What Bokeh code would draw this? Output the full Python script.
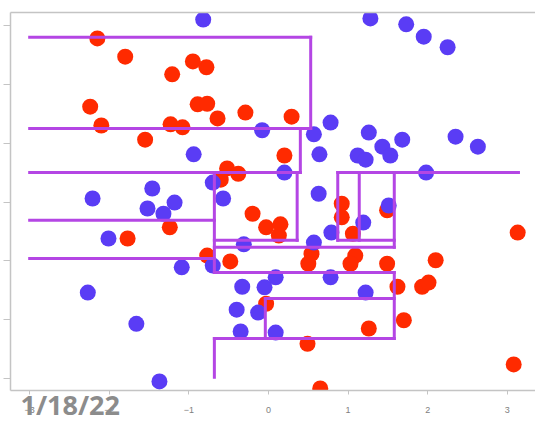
from bokeh.plotting import figure
from bokeh.models import LinearAxis, FixedTicker, Title, Range1d
from bokeh.embed import file_html
from bokeh.resources import INLINE

# class "red" points
red_x = [-2.15, -1.80, -1.21, -0.95, -0.78, -2.24, -2.10, -1.55, -1.23, -1.08,
         -0.89, -0.77, -0.64, -0.29, 0.29, 0.20, -0.52, -0.38, -0.60, -1.24,
         -1.77, -0.77, -0.48, -0.20, -0.03, 0.15, 0.13, -0.03, 0.92, 0.92,
         1.06, 1.49, 0.54, 0.50, 1.09, 1.03, 1.49, 2.10, 1.62, 1.93,
         2.01, 3.13, 1.70, 1.26, 0.49, 3.08, 0.65]
red_y = [2.78, 2.47, 2.17, 2.39, 2.29, 1.62, 1.30, 1.06, 1.32, 1.27,
         1.66, 1.67, 1.42, 1.52, 1.45, 0.79, 0.57, 0.48, 0.38, -0.43,
         -0.62, -0.91, -1.01, -0.20, -0.43, -0.38, -0.57, -1.73, -0.03, -0.26,
         -0.54, -0.14, -0.88, -1.05, -0.91, -1.05, -1.05, -0.99, -1.44, -1.44,
         -1.37, -0.52, -2.01, -2.15, -2.41, -2.76, -3.17]

# class "blue" points
blue_x = [-0.82, 1.28, 1.73, 1.95, 2.25, -0.08, 0.78, 0.57, 0.64, 1.26,
          1.12, 1.22, 1.43, 1.53, 1.68, 2.35, 2.63, 1.98, 0.20, 0.63,
          -0.94, -0.70, -1.46, -2.21, -1.18, -1.52, -1.32, -0.57, -2.01, -1.09,
          -0.70, -0.31, -2.27, -1.66, -1.37, -0.33, -0.05, 0.09, -0.40, -0.13,
          -0.35, 0.09, 1.51, 1.19, 0.79, 0.57, 0.78, 1.22]
blue_y = [3.10, 3.12, 3.02, 2.81, 2.63, 1.22, 1.35, 1.15, 0.81, 1.18,
          0.79, 0.72, 0.94, 0.79, 1.06, 1.11, 0.94, 0.50, 0.50, 0.14,
          0.81, 0.33, 0.23, 0.06, -0.01, -0.11, -0.20, 0.06, -0.62, -1.11,
          -1.08, -0.72, -1.54, -2.07, -3.05, -1.44, -1.45, -1.28, -1.83, -1.88,
          -2.20, -2.22, -0.06, -0.35, -0.52, -0.69, -1.28, -1.54]

# decision-tree boundary segments
seg_x0 = [-3.0, 0.53, -3.0, 0.40, -3.0, 0.36, -0.68, -0.68, -3.0, -3.0, -0.68,
          0.87, 0.87, 1.14, 1.58, 0.87, -0.68, 1.58, -0.04, -0.04, -0.68, -0.68]
seg_y0 = [2.80, 2.80, 1.25, 1.25, 0.50, 0.50, -0.65, 0.50, -0.31, -0.96, -0.77,
          0.50, 0.50, 0.50, 0.50, -0.65, -1.20, -1.20, -1.64, -1.64, -2.32, -2.32]
seg_x1 = [0.53, 0.53, 0.53, 0.40, 0.40, 0.36, 0.36, -0.68, -0.68, -0.68, 1.58,
          3.14, 0.87, 1.14, 1.58, 1.58, 1.58, 1.58, 1.58, -0.04, 1.58, -0.68]
seg_y1 = [2.80, 1.25, 1.25, 0.50, 0.50, -0.65, -0.65, -1.20, -0.31, -0.96, -0.77,
          0.50, -0.65, -0.65, -0.77, -0.65, -1.20, -2.32, -1.64, -2.32, -2.32, -2.98]

x_ticks = [-3, -2, -1, 0, 1, 2, 3]
y_ticks = [-3, -2, -1, 0, 1, 2, 3]
date_text = "1/18/22"

p = figure(width=535, height=421, output_backend="svg", toolbar_location=None,
           x_range=Range1d(-3.241, 3.354), y_range=Range1d(-3.204, 3.221),
           min_border_left=10, min_border_right=0, min_border_top=12, min_border_bottom=31,
           x_axis_location="below", y_axis_location="left")
p.outline_line_color = None
p.grid.visible = False
p.background_fill_color = "white"
p.border_fill_color = "white"

axis_grey = "#c4c4c4"
xa = p.xaxis[0]
xa.ticker = FixedTicker(ticks=x_ticks)
xa.axis_line_color = axis_grey
xa.axis_line_width = 1.5
xa.major_tick_line_color = axis_grey
xa.major_tick_in = 0
xa.major_tick_out = 4
xa.minor_tick_line_color = None
xa.major_label_standoff = 12
xa.major_label_text_font_size = "9px"
xa.major_label_text_color = "#808080"
xa.major_label_text_font = "Liberation Sans"

ya = p.yaxis[0]
ya.ticker = FixedTicker(ticks=y_ticks)
ya.axis_line_color = axis_grey
ya.axis_line_width = 1.5
ya.major_tick_line_color = axis_grey
ya.major_tick_in = 0
ya.major_tick_out = 7
ya.minor_tick_line_color = None
ya.major_label_standoff = 0
ya.major_label_overrides = {t: "" for t in y_ticks}

top_axis = LinearAxis(ticker=FixedTicker(ticks=[]), axis_line_color=axis_grey,
                      axis_line_width=1.5, major_tick_out=0, major_tick_in=0,
                      minor_tick_line_color=None, major_label_standoff=0)
p.add_layout(top_axis, "above")

p.scatter(red_x, red_y, marker="circle", size=16, fill_color="#ff2a00", line_color=None)
p.scatter(blue_x, blue_y, marker="circle", size=16, fill_color="#5a3cf5", line_color=None)

p.segment(x0=seg_x0, y0=seg_y0, x1=seg_x1, y1=seg_y1, line_color="#b446e4",
          line_width=3, line_cap="square")

date_title = Title(text=date_text, align="left", vertical_align="top", offset=10,
                   standoff=-60, text_font="Open Sans", text_font_style="bold",
                   text_font_size="27px", text_color="#8c8c8c")
p.add_layout(date_title, "below")

open("out.html", "w").write(file_html(p, INLINE))
